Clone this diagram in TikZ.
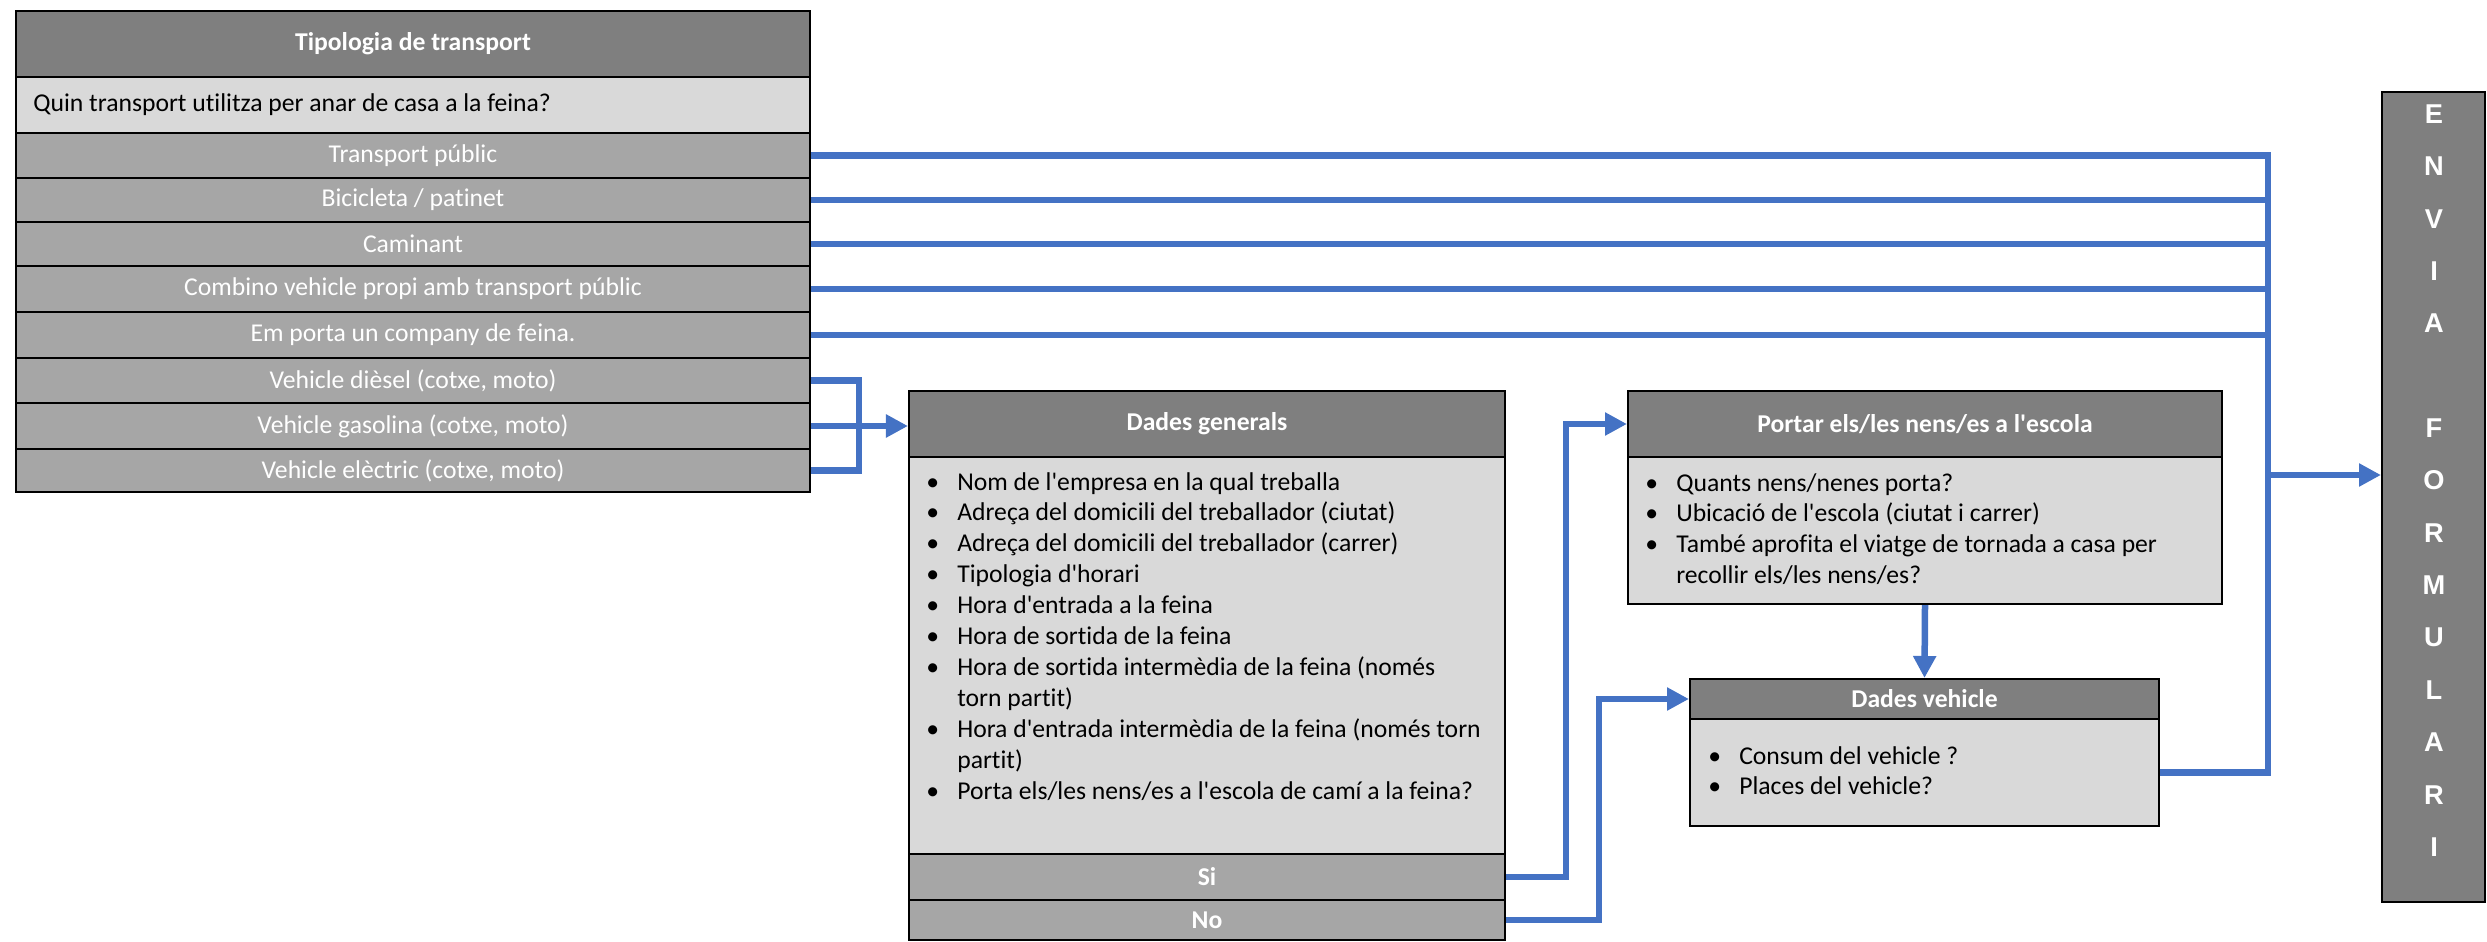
\documentclass[tikz,border=0pt]{standalone}
\usepackage{fontspec}
\setmainfont{Carlito}[Ligatures={NoCommon}]
\newfontfamily\formfont{Liberation Sans}
\usetikzlibrary{arrows.meta}
\definecolor{cblue}{HTML}{4472C4}
\definecolor{gdark}{HTML}{7F7F7F}
\definecolor{gmid}{HTML}{A6A6A6}
\definecolor{glight}{HTML}{D9D9D9}
\newcommand\ap{\textquotesingle}
\newcommand\bfs{\fontsize{14.6pt}{17.6pt}\selectfont}
\newcommand\bul{\textbullet}
% box node: style, name, x1, y1, x2, y2, text
\newcommand\bx[7]{%
  \pgfmathsetmacro\mybw{(#5-#3)*0.02}%
  \pgfmathsetmacro\mybh{(#6-#4)*0.02}%
  \node[#1, minimum width=\mybw cm, minimum height=\mybh cm] (#2) at ({(#3+#5)/2},{(#4+#6)/2}) {#7};}
\begin{document}
\begin{tikzpicture}[x=0.02cm,y=-0.02cm,
  box/.style={draw=black, line width=1.2pt, inner sep=0pt},
  hdr/.style={box, fill=gdark, text=white, font=\bfs\bfseries},
  opt/.style={box, fill=gmid, text=white, font=\bfs},
  body/.style={box, fill=glight},
  list/.style={anchor=base west, inner sep=0pt, font=\bfs},
  conn/.style={draw=cblue, line width=3.7pt},
  arr/.style={conn, -{Triangle[length=12.5pt,width=12.5pt]}}]
\useasboundingbox (0,0) rectangle (2487,942);

% left table
\bx{hdr}{th}{16}{11}{810}{77}{Tipologia de transport}
\bx{body}{tq}{16}{77}{810}{133}{}
\node[anchor=west, inner sep=0pt, font=\bfs] (tqt) at (33,105) {Quin transport utilitza per anar de casa a la feina?};
\bx{opt}{r1}{16}{133}{810}{178}{Transport públic}
\bx{opt}{r2}{16}{178}{810}{222}{Bicicleta / patinet}
\bx{opt}{r3}{16}{222}{810}{266}{Caminant}
\bx{opt}{r4}{16}{266}{810}{312}{Combino vehicle propi amb transport públic}
\bx{opt}{r5}{16}{312}{810}{358}{Em porta un company de feina.}
\bx{opt}{r6}{16}{358}{810}{403}{Vehicle dièsel (cotxe, moto)}
\bx{opt}{r7}{16}{403}{810}{449}{Vehicle gasolina (cotxe, moto)}
\bx{opt}{r8}{16}{449}{810}{492}{Vehicle elèctric (cotxe, moto)}

% Dades generals
\bx{hdr}{dgh}{909}{391}{1505}{457}{Dades generals}
\bx{body}{dgb}{909}{457}{1505}{854}{}
\bx{opt,font=\bfs\bfseries}{si}{909}{854}{1505}{900}{Si}
\bx{opt,font=\bfs\bfseries}{no}{909}{900}{1505}{940}{No}
\node[list] (dgt) at (926,490) {\begin{tabular}[t]{@{}p{17.6pt}@{}l@{}}
\bul & Nom de l\ap empresa en la qual treballa\\
\bul & Adreça del domicili del treballador (ciutat)\\
\bul & Adreça del domicili del treballador (carrer)\\
\bul & Tipologia d\ap horari\\
\bul & Hora d\ap entrada a la feina\\
\bul & Hora de sortida de la feina\\
\bul & Hora de sortida intermèdia de la feina (només\\
 & torn partit)\\
\bul & Hora d\ap entrada intermèdia de la feina (només torn\\
 & partit)\\
\bul & Porta els/les nens/es a l\ap escola de camí a la feina?
\end{tabular}};

% Portar
\bx{hdr}{ph}{1628}{391}{2222}{457}{Portar els/les nens/es a l\ap escola}
\bx{body}{pb}{1628}{457}{2222}{604}{}
\node[list] (pt) at (1645,491) {\begin{tabular}[t]{@{}p{17.6pt}@{}l@{}}
\bul & Quants nens/nenes porta?\\
\bul & Ubicació de l\ap escola (ciutat i carrer)\\
\bul & També aprofita el viatge de tornada a casa per\\
 & recollir els/les nens/es?
\end{tabular}};

% Dades vehicle
\bx{hdr}{dvh}{1690}{679}{2159}{719}{Dades vehicle}
\bx{body}{dvb}{1690}{719}{2159}{826}{}
\node[list] (dvt) at (1708,764) {\begin{tabular}[t]{@{}p{17.6pt}@{}l@{}}
\bul & Consum del vehicle ?\\
\bul & Places del vehicle?
\end{tabular}};

% Envia formulari
\bx{box, fill=gdark}{fm}{2382}{92}{2485}{902}{}
\node[inner sep=0pt, align=center, text=white,
  font=\formfont\bfseries\fontsize{15.5pt}{29.8pt}\selectfont] (fmt) at (2434,480.5)
  {E\\N\\V\\I\\A\\[29.8pt]F\\O\\R\\M\\U\\L\\A\\R\\I};

% connectors
\coordinate (bus) at (2268,155);
\coordinate (busout) at (2268,475);
\coordinate (vj) at (859,426);
\draw[conn] (r1.east) -| (dvb.east -| bus) -- (dvb.east);
\foreach \r in {r2,r3,r4,r5} \draw[conn] (\r.east) -- (\r.east -| bus);
\draw[arr] (busout) -- (busout -| fm.west);
\draw[conn] (r6.east) -| (vj) |- (r8.east);
\draw[arr] (r7.east) -- (r7.east -| dgh.west);
\draw[arr] (si.east) -- ++(60,0) |- (ph.west);
\draw[arr] (no.east) -- ++(93,0) |- (dvh.west);
\draw[arr] (pb.south) -- (dvh.north);
\end{tikzpicture}
\end{document}
